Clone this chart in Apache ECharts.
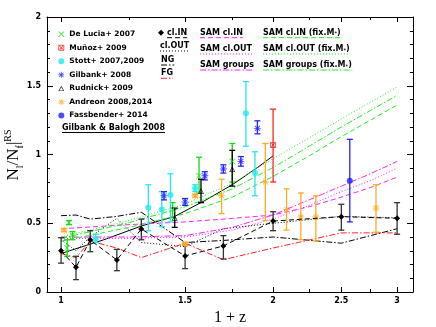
<!DOCTYPE html>
<html><head><meta charset="utf-8">
<script src="https://cdn.jsdelivr.net/npm/echarts@6/dist/echarts.min.js"></script>
<style>html,body{margin:0;padding:0;background:#fff}#c{width:436px;height:327px}</style>
</head><body><div id="c"></div>
<script>
// ---------------- data ----------------
const xTicks = [1, 1.5, 2, 2.5, 3];
const xMinorTicks = [1.25, 1.75, 2.25, 2.75];
const yTicks = [0, 0.5, 1, 1.5, 2];

// observations: [1+z, value, low, high]
const deLucia = [[1.02,0.32,0.26,0.38],[1.026,0.505,0.49,0.52],[1.038,0.415,0.38,0.44],[1.44,0.60,0.54,0.65],[1.57,0.845,0.72,0.98],[1.75,0.95,0.80,1.08]];
const munoz = [[2.0,1.07,0.80,1.33]];
const stott = [[1.12,0.385,0.36,0.42],[1.33,0.615,0.445,0.78],[1.39,0.60,0.475,0.73],[1.43,0.705,0.51,0.86],[1.55,0.755,0.73,0.78],[1.83,1.30,1.06,1.53],[1.885,0.865,0.70,1.02]];
const gilbank = [[1.40,0.70,0.67,0.73],[1.50,0.655,0.63,0.68],[1.60,0.845,0.815,0.875],[1.70,0.895,0.865,0.925],[1.80,0.95,0.915,0.985],[1.90,1.19,1.15,1.245]];
const rudnick = [[1.45,0.54,0.47,0.61],[1.58,0.735,0.65,0.82],[1.75,0.895,0.77,1.03]];
const andreon = [[1.01,0.45,0.44,0.46],[1.5,0.35,0.34,0.36],[1.55,0.70,0.69,0.71],[1.69,0.70,0.57,0.82],[1.95,0.80,0.52,1.08],[2.09,0.60,0.45,0.75],[2.19,0.545,0.38,0.72],[2.3,0.545,0.37,0.70],[2.8,0.61,0.435,0.78]];
const fassbender = [[2.57,0.81,0.51,1.11]];
const clIn = [[1.0,0.30,0.21,0.395],[1.05,0.18,0.09,0.26],[1.1,0.378,0.293,0.446],[1.2,0.233,0.155,0.31],[1.3,0.458,0.38,0.53],[1.5,0.262,0.17,0.34],[1.7,0.335,0.24,0.41],[2.0,0.516,0.446,0.584],[2.5,0.548,0.45,0.638],[3.0,0.536,0.42,0.65]];

// curves: [1+z, value]
const gilbankBalogh = [[1.0,0.28],[1.15,0.38],[1.3,0.48],[1.45,0.55],[1.6,0.665],[1.75,0.78],[1.9,0.905],[2.0,0.99]];
const clOut = [[1.0,0.38],[1.05,0.30],[1.1,0.40],[1.2,0.535],[1.3,0.36],[1.5,0.33],[1.7,0.46],[2.0,0.50],[2.5,0.55],[3.0,0.54]];
const ng = [[1.0,0.555],[1.05,0.56],[1.1,0.53],[1.2,0.55],[1.3,0.58],[1.5,0.36],[1.7,0.375],[2.0,0.40],[2.5,0.355],[3.0,0.46]];
const fg = [[1.0,0.28],[1.05,0.25],[1.1,0.37],[1.2,0.32],[1.3,0.25],[1.5,0.355],[1.7,0.235],[2.0,0.32],[2.5,0.43],[3.0,0.43]];
const samIn = [[1.0,0.46],[1.25,0.49],[1.5,0.51],[1.75,0.535],[2.0,0.56],[2.25,0.62],[2.5,0.69],[2.75,0.76],[3.0,0.835]];
const samOut = [[1.0,0.39],[1.25,0.39],[1.5,0.40],[1.75,0.45],[2.0,0.53],[2.25,0.63],[2.5,0.73],[2.75,0.81],[3.0,0.90]];
const samGroups = [[1.0,0.40],[1.25,0.40],[1.5,0.41],[1.75,0.47],[2.0,0.56],[2.25,0.67],[2.5,0.77],[2.75,0.86],[3.0,0.95]];
const samInFix = [[1.0,0.37],[1.25,0.47],[1.5,0.57],[1.75,0.69],[2.0,0.84],[2.25,0.99],[2.5,1.13],[2.75,1.25],[3.0,1.36]];
const samOutFix = [[1.0,0.40],[1.25,0.52],[1.5,0.64],[1.75,0.79],[2.0,0.97],[2.25,1.12],[2.5,1.26],[2.75,1.38],[3.0,1.49]];
const samGroupsFix = [[1.0,0.39],[1.25,0.505],[1.5,0.62],[1.75,0.75],[2.0,0.905],[2.25,1.06],[2.5,1.20],[2.75,1.32],[3.0,1.43]];

// ---------------- styles ----------------
const DASH = [5, 3], DOT = [1, 2], DASHDOT = [6, 2, 1.5, 2], SOLID = 'solid';
const GREEN = '#22ee22', MAGENTA = '#ff22ff', RED = '#ff2222', CYAN = '#22e8f0', BLUE = '#2222ff', ORANGE = '#ffaa22';

const XSYM = 'path://M0,1L1,0L5,4L9,0L10,1L6,5L10,9L9,10L5,6L1,10L0,9L4,5Z';
const ASTER = 'path://M4.3,0h1.4v10h-1.4z M0,4.3h10v1.4h-10z M0.9,1.9L1.9,0.9L9.1,8.1L8.1,9.1z M8.1,0.9L9.1,1.9L1.9,9.1L0.9,8.1z';
const SQX = 'path://M0,0H10V10H0Z M1.5,1.5V8.5H8.5V1.5Z M1.5,2.5L2.5,1.5L8.5,7.5L7.5,8.5Z M7.5,1.5L8.5,2.5L2.5,8.5L1.5,7.5Z';
const TRI = 'path://M5,0L10,9H0Z M5,2.6L1.9,7.8H8.1Z';

const obsDefs = [
  {name:'De Lucia+ 2007', rows:deLucia, color:'#11dd11', symbol:XSYM, size:6},
  {name:'Muñoz+ 2009', rows:munoz, color:RED, symbol:SQX, size:6},
  {name:'Stott+ 2007,2009', rows:stott, color:CYAN, symbol:'circle', size:6},
  {name:'Gilbank+ 2008', rows:gilbank, color:BLUE, symbol:ASTER, size:7},
  {name:'Rudnick+ 2009', rows:rudnick, color:'#000', symbol:TRI, size:6},
  {name:'Andreon 2008,2014', rows:andreon, color:ORANGE, symbol:ASTER, size:7},
  {name:'Fassbender+ 2014', rows:fassbender, color:BLUE, symbol:'circle', size:6}
];

const curveDefs = [
  {name:'Gilbank & Balogh 2008', data:gilbankBalogh, color:'#000', dash:SOLID},
  {name:'cl.OUT', data:clOut, color:'#000', dash:DOT},
  {name:'NG', data:ng, color:'#000', dash:DASHDOT},
  {name:'FG', data:fg, color:RED, dash:DASHDOT},
  {name:'SAM cl.IN', data:samIn, color:MAGENTA, dash:DASH},
  {name:'SAM cl.OUT', data:samOut, color:MAGENTA, dash:DOT},
  {name:'SAM groups', data:samGroups, color:MAGENTA, dash:DASHDOT},
  {name:'SAM cl.IN (fix.M*)', data:samInFix, color:GREEN, dash:DASH},
  {name:'SAM cl.OUT (fix.M*)', data:samOutFix, color:GREEN, dash:DOT},
  {name:'SAM groups (fix.M*)', data:samGroupsFix, color:GREEN, dash:DASHDOT}
];

// ---------------- series ----------------
function errorBars(id, rows, color) {
  return {
    type:'custom', id:id, name:id, silent:true, z:3,
    data: rows.map(r => [r[0], r[2], r[3]]),
    encode:{x:0, y:[1,2]},
    renderItem:(params, api) => {
      const lo = api.coord([api.value(0), api.value(1)]);
      const hi = api.coord([api.value(0), api.value(2)]);
      const w = 3, st = {stroke:color, lineWidth:1.3};
      return {type:'group', children:[
        {type:'line', shape:{x1:lo[0], y1:lo[1], x2:hi[0], y2:hi[1]}, style:st},
        {type:'line', shape:{x1:lo[0]-w, y1:lo[1], x2:lo[0]+w, y2:lo[1]}, style:st},
        {type:'line', shape:{x1:hi[0]-w, y1:hi[1], x2:hi[0]+w, y2:hi[1]}, style:st}
      ]};
    }
  };
}

const series = [];
curveDefs.forEach(c => series.push({
  type:'line', name:c.name, data:c.data, showSymbol:false, symbol:'none', silent:true, z:2,
  lineStyle:{color:c.color, width:1, type:c.dash}, animation:false
}));
series.push({
  type:'line', name:'cl.IN', data:clIn.map(r => [r[0], r[1]]), symbol:'diamond', symbolSize:6, z:5,
  itemStyle:{color:'#000'}, lineStyle:{color:'#000', width:1, type:DASH}
});
series.push(errorBars('cl.IN err', clIn, '#333'));
obsDefs.forEach(o => {
  series.push(errorBars(o.name + ' err', o.rows, o.color));
  series.push({
    type:'scatter', name:o.name, data:o.rows.map(r => [r[0], r[1]]), symbol:o.symbol, symbolSize:o.size, z:4,
    itemStyle:{color:o.color, borderWidth:0}
  });
});

// ---------------- axes ----------------
const FONT = 'DejaVu Sans';
const labelStyle = {fontFamily:FONT, fontWeight:'bold', fontSize:8, color:'#000'};
const fmt = v => String(+(+v).toFixed(2));
function xAx(pos, ticks, len, labels) {
  return {
    type:'log', logBase:10, min:0.955, max:3.16, position:pos,
    axisLine:{show:labels !== null, lineStyle:{color:'#000', width:1}},
    axisTick:{show:true, inside:true, length:len, customValues:ticks, lineStyle:{color:'#000'}},
    axisLabel:labels ? {show:true, customValues:labels, formatter:fmt, margin:5, ...labelStyle} : {show:false},
    splitLine:{show:false}, minorTick:{show:false}
  };
}
const xAxes = [
  Object.assign(xAx('bottom', xTicks, 5, xTicks), {name:'1 + z', nameLocation:'middle', nameGap:13,
    nameTextStyle:{fontFamily:'Liberation Serif', fontSize:16, color:'#000'}}),
  xAx('bottom', xMinorTicks, 3, null),
  Object.assign(xAx('top', xTicks, 5, false), {axisLine:{show:true, lineStyle:{color:'#000'}}}),
  xAx('top', xMinorTicks, 3, null)
];
function yAx(pos, labels) {
  return {
    type:'value', min:yTicks[0], max:yTicks[yTicks.length-1], interval:0.5, position:pos,
    axisLine:{show:true, lineStyle:{color:'#000', width:1}},
    axisTick:{show:true, inside:true, length:6, lineStyle:{color:'#000'}},
    minorTick:{show:true, splitNumber:5, length:3, lineStyle:{color:'#000'}},
    axisLabel:labels ? {show:true, formatter:fmt, margin:6, ...labelStyle} : {show:false},
    splitLine:{show:false}
  };
}
const yAxes = [yAx('left', true), yAx('right', false)];

// ---------------- legend (lines) & titles ----------------
const LFONT = 'bold 8px "DejaVu Sans"';
const ctx = document.createElement('canvas').getContext('2d');
ctx.font = LFONT;
const tw = s => ctx.measureText(s).width;
const lineLegend = [
  {name:'cl.IN', x:167, y:32.7, color:'#000', dash:DASH},
  {name:'cl.OUT', x:160, y:46, color:'#000', dash:DOT},
  {name:'NG', x:161, y:60, color:'#000', dash:DASHDOT},
  {name:'FG', x:161, y:73.3, color:RED, dash:DASHDOT},
  {name:'SAM cl.IN', x:200, y:32.7, color:MAGENTA, dash:DASH},
  {name:'SAM cl.OUT', x:200, y:49, color:MAGENTA, dash:DOT},
  {name:'SAM groups', x:200, y:65, color:MAGENTA, dash:DASHDOT},
  {name:'SAM cl.IN (fix.M*)', x:263, y:32.7, color:GREEN, dash:DASH},
  {name:'SAM cl.OUT (fix.M*)', x:263, y:49, color:GREEN, dash:DOT},
  {name:'SAM groups (fix.M*)', x:263, y:65, color:GREEN, dash:DASHDOT},
  {name:'Gilbank & Balogh 2008', x:62, y:127.5, color:'#000', dash:SOLID}
];
const graphic = [];
lineLegend.forEach(l => {
  const isFix = l.name.indexOf('M*') >= 0;
  const txt = isFix ? l.name.replace('M*)', 'M{s|*})') : l.name;
  graphic.push({type:'text', x:l.x, y:l.y, silent:true, style:{
    text:txt, font:LFONT, fill:'#000', align:'left', verticalAlign:'middle',
    rich:{s:{fontFamily:FONT, fontWeight:'bold', fontSize:5, verticalAlign:'bottom', lineHeight:6, fill:'#000', padding:[3,0,0,0]}}
  }});
  const w = tw(l.name.replace('*', '')) + (isFix ? 3 : 0);
  graphic.push({type:'line', silent:true, shape:{x1:l.x, y1:l.y+5, x2:l.x+w, y2:l.y+5},
    style:{stroke:l.color, lineWidth:1, lineDash:l.dash === SOLID ? null : l.dash}});
});
graphic.push({type:'polygon', silent:true, shape:{points:[[161,29.7],[164,32.7],[161,35.7],[158,32.7]]}, style:{fill:'#000'}});
// y-axis title
graphic.push({type:'text', x:14, y:155, rotation:Math.PI/2, silent:true, style:{
  text:'{n|N}{s|l}{n|/N}{s|f}{n||}{p|RS}', align:'center', verticalAlign:'middle', fill:'#000',
  rich:{
    n:{fontFamily:'Liberation Serif', fontSize:17, lineHeight:22, verticalAlign:'middle', fill:'#000'},
    s:{fontFamily:'Liberation Serif', fontSize:10, lineHeight:10, verticalAlign:'bottom', fill:'#000'},
    p:{fontFamily:'Liberation Serif', fontSize:10, lineHeight:10, verticalAlign:'top', fill:'#000'}
  }
}});

const option = {
  animation:false,
  backgroundColor:'#fff',
  grid:{left:47, right:23, top:17, bottom:35, containLabel:false, outerBoundsMode:'none'},
  xAxis:xAxes,
  yAxis:yAxes,
  legend:{
    data:obsDefs.map(o => o.name), orient:'vertical', left:58.3, top:29.2, padding:0,
    itemWidth:6, itemHeight:6, itemGap:3.55, selectedMode:false,
    itemStyle:{borderWidth:0},
    textStyle:{...labelStyle, fontSize:7.5, lineHeight:10}
  },
  graphic:graphic,
  series:series
};
const chart = echarts.init(document.getElementById('c'), null, {renderer:'canvas'});
chart.setOption(option);
</script>
</body></html>
